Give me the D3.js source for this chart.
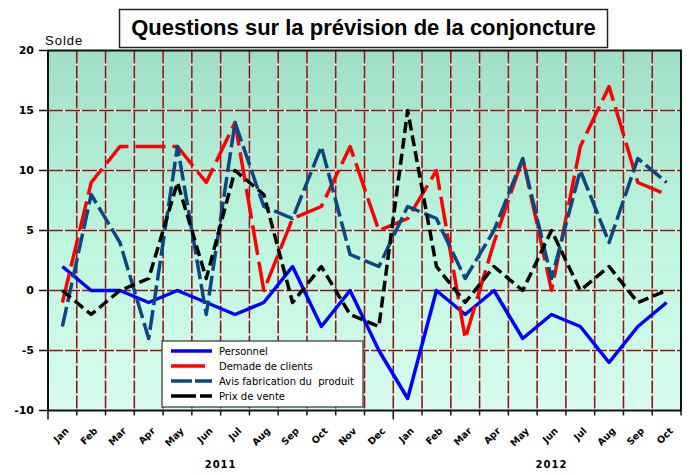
<!DOCTYPE html>
<html lang="fr">
<head>
  <meta charset="utf-8">
  <title>Questions sur la prévision de la conjoncture</title>
  <script src="https://d3js.org/d3.v7.min.js"></script>
  <style>
    body {
      margin: 0;
      padding: 0;
      background: #fff;
    }
    svg {
      display: block;
    }
    .tick-label {
      font-family: "DejaVu Sans", Verdana, sans-serif;
      font-weight: bold;
      fill: #000;
    }
    .legend-text {
      font-family: "DejaVu Sans", Verdana, sans-serif;
      font-size: 10px;
      fill: #000;
    }
  </style>
</head>
<body>
  <div id="chart"></div>
  <script>
    // Data
    const months = ["Jan", "Feb", "Mar", "Apr", "May", "Jun", "Jul", "Aug", "Sep", "Oct", "Nov", "Dec",
                    "Jan", "Feb", "Mar", "Apr", "May", "Jun", "Jul", "Aug", "Sep", "Oct"];
    const years = ["2011", "2012"];
    const yearStart = [0, 12];
    const yearEnd = [11, 21];

    const personnel = [2, 0, 0, -1, 0, -1, -2, -1, 2, -3, 0, -5, -9, 0, -2, 0, -4, -2, -3, -6, -3, -1];
    const demande   = [-1, 9, 12, 12, 12, 9, 14, 0, 6, 7, 12, 5, 6, 10, -4, 4, 11, 0, 12, 17, 9, 8];
    const avis      = [-3, 8, 4, -4, 12, -2, 14, 7, 6, 12, 3, 2, 7, 6, 1, 5, 11, 1, 10, 4, 11, 9];
    const prix      = [0, -2, 0, 1, 9, 1, 10, 8, -1, 2, -2, -3, 15, 2, -1, 2, 0, 5, 0, 2, -1, 0];

    const yTicks = [-10, -5, 0, 5, 10, 15, 20];
    const yGrid = [-5, 0, 5, 10, 15];

    const series = [
      { name: "Personnel", values: personnel, color: "#0000ff", dash: null },
      { name: "Demade de clients", values: demande, color: "#ff0000", dash: "30,7" },
      { name: "Avis fabrication du  produit", values: avis, color: "#0c4685", dash: "20,5" },
      { name: "Prix de vente", values: prix, color: "#000000", dash: "11,5" }
    ];

    // Layout
    const W = 694, H = 475;
    const plot = { left: 48, right: 681, top: 50.5, bottom: 410.5 };

    const svg = d3.select("#chart").append("svg")
      .attr("width", W)
      .attr("height", H);

    const x = d3.scaleBand()
      .domain(d3.range(months.length))
      .range([plot.left, plot.right])
      .padding(0);

    const y = d3.scaleLinear()
      .domain([-10, 20])
      .range([plot.bottom, plot.top]);

    // Background gradient
    const defs = svg.append("defs");
    const grad = defs.append("linearGradient")
      .attr("id", "bg-grad")
      .attr("x1", "0%").attr("y1", "0%")
      .attr("x2", "0%").attr("y2", "100%");
    grad.append("stop").attr("offset", "0%").attr("stop-color", "#a0dfc6");
    grad.append("stop").attr("offset", "55%").attr("stop-color", "#bff7df");
    grad.append("stop").attr("offset", "100%").attr("stop-color", "#d8fcef");

    svg.append("rect")
      .attr("x", plot.left)
      .attr("y", plot.top)
      .attr("width", plot.right - plot.left)
      .attr("height", plot.bottom - plot.top)
      .attr("fill", "url(#bg-grad)");

    // Grid: dark red dashes with light gaps
    const gridG = svg.append("g");
    const vLines = d3.range(1, months.length).map(i => x(i));

    function gridLine(x1, y1, x2, y2, dash) {
      gridG.append("line")
        .attr("x1", x1).attr("y1", y1).attr("x2", x2).attr("y2", y2)
        .attr("stroke", "#f4fff9").attr("stroke-width", 1.6);
      gridG.append("line")
        .attr("x1", x1).attr("y1", y1).attr("x2", x2).attr("y2", y2)
        .attr("stroke", "#8b1616").attr("stroke-width", 1.6)
        .attr("stroke-dasharray", dash);
    }
    vLines.forEach(vx => gridLine(vx, plot.top, vx, plot.bottom, "13,2"));
    yGrid.forEach(v => gridLine(plot.left, y(v), plot.right, y(v), "15,2"));

    // Series lines
    const line = d3.line()
      .x((d, i) => x(i) + x.bandwidth() / 2)
      .y(d => y(d));

    svg.append("g")
      .selectAll("path")
      .data(series)
      .join("path")
      .attr("d", d => line(d.values))
      .attr("fill", "none")
      .attr("stroke", d => d.color)
      .attr("stroke-width", 3.5)
      .attr("stroke-linejoin", "round")
      .attr("stroke-dasharray", d => d.dash);

    // Plot border
    svg.append("rect")
      .attr("x", plot.left)
      .attr("y", plot.top)
      .attr("width", plot.right - plot.left)
      .attr("height", plot.bottom - plot.top)
      .attr("fill", "none")
      .attr("stroke", "#111")
      .attr("stroke-width", 2);

    // Y axis ticks and labels
    const yAxis = svg.append("g");
    yAxis.selectAll("line")
      .data(yTicks)
      .join("line")
      .attr("x1", plot.left - 9).attr("x2", plot.left)
      .attr("y1", d => y(d)).attr("y2", d => y(d))
      .attr("stroke", "#111").attr("stroke-width", 1.5);
    yAxis.selectAll("text")
      .data(yTicks)
      .join("text")
      .attr("class", "tick-label")
      .attr("x", 34)
      .attr("y", d => y(d))
      .attr("dy", "0.36em")
      .attr("text-anchor", "end")
      .style("font-size", "11px")
      .text(d => d);

    svg.append("text")
      .attr("x", 45)
      .attr("y", 45)
      .style("font-family", "'Liberation Sans', Arial, sans-serif")
      .style("font-size", "13px")
      .style("letter-spacing", "1px")
      .text("Solde");

    // X axis ticks
    const bounds = d3.range(0, months.length + 1).map(i => i < months.length ? x(i) : plot.right);
    svg.append("g").selectAll("line")
      .data(bounds)
      .join("line")
      .attr("x1", d => d).attr("x2", d => d)
      .attr("y1", plot.bottom)
      .attr("y2", (d, i) => (i === 0 || i === 12) ? plot.bottom + 9 : plot.bottom + 5)
      .attr("stroke", "#111").attr("stroke-width", 1.5);

    // Month labels (rotated)
    svg.append("g").selectAll("text")
      .data(months)
      .join("text")
      .attr("class", "tick-label")
      .attr("text-anchor", "end")
      .style("font-size", "9.5px")
      .attr("transform", (d, i) => `translate(${x(i) + x.bandwidth() / 2 + 7},${plot.bottom + 21}) rotate(-45)`)
      .text(d => d);

    // Year labels
    svg.append("g").selectAll("text")
      .data(years)
      .join("text")
      .attr("class", "tick-label")
      .attr("text-anchor", "middle")
      .attr("x", (d, i) => i === 0
        ? (x(yearStart[i]) + x(yearEnd[i]) + x.bandwidth()) / 2
        : (x(yearStart[i]) + x(yearEnd[i]) + x.bandwidth()) / 2 + x.bandwidth() / 2)
      .attr("y", 468)
      .style("font-size", "10px")
      .style("letter-spacing", "1px")
      .text(d => d);

    // Title box
    svg.append("rect")
      .attr("x", 119.5).attr("y", 9.5)
      .attr("width", 488).attr("height", 38)
      .attr("fill", "#fff")
      .attr("stroke", "#222").attr("stroke-width", 1.5);
    svg.append("text")
      .attr("x", 363.5)
      .attr("y", 35)
      .attr("text-anchor", "middle")
      .style("font-family", "'Liberation Sans', Arial, sans-serif")
      .style("font-weight", "bold")
      .style("font-size", "22px")
      .text("Questions sur la prévision de la conjoncture");

    // Legend
    const legend = svg.append("g").attr("transform", "translate(162,341)");
    legend.append("rect")
      .attr("width", 201).attr("height", 66)
      .attr("fill", "#fff")
      .attr("stroke", "#333").attr("stroke-width", 1.2);
    const items = legend.selectAll("g")
      .data(series)
      .join("g")
      .attr("transform", (d, i) => `translate(0,${10 + i * 15})`);
    items.append("line")
      .attr("x1", 9).attr("x2", 50)
      .attr("stroke", d => d.color)
      .attr("stroke-width", 3.5)
      .attr("stroke-dasharray", (d, i) => i === 1 ? "34,8" : i === 2 ? "21,3" : i === 3 ? "25,4" : null);
    items.append("text")
      .attr("class", "legend-text")
      .attr("x", 57)
      .attr("dy", "0.35em")
      .style("white-space", "pre")
      .text(d => d.name);
  </script>
</body>
</html>
